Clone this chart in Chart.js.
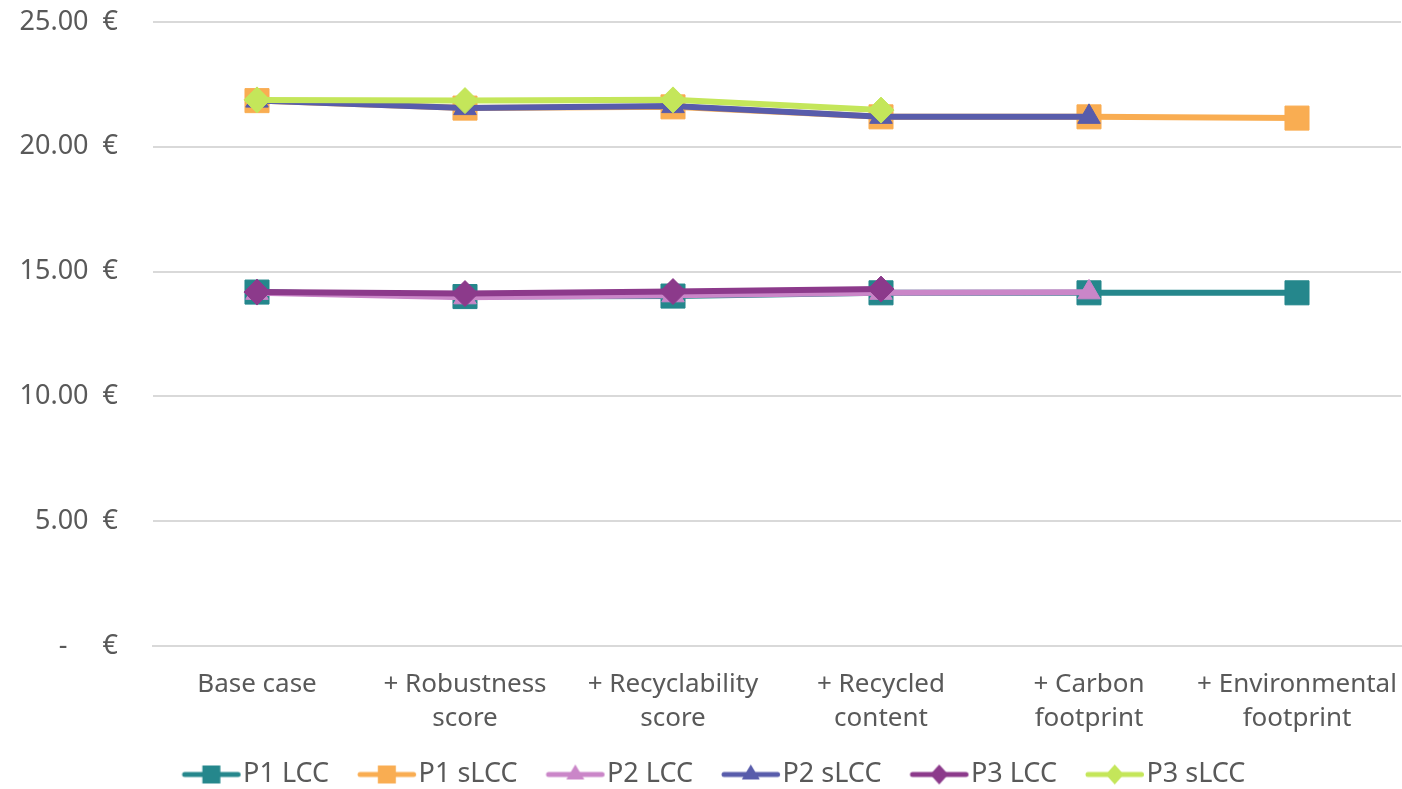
<!DOCTYPE html>
<html>
<head>
<meta charset="utf-8">
<script src="https://cdn.jsdelivr.net/npm/chart.js@4"></script>
<style>
  html, body { margin: 0; padding: 0; background: #ffffff; }
  #wrap { width: 1402px; height: 789px; }
</style>
</head>
<body>
<div id="wrap"><canvas id="c" width="1402" height="789"></canvas></div>
<script>
// Scenario steps on the x axis (two-line labels)
const categories = [
  'Base case',
  ['+ Robustness', 'score'],
  ['+ Recyclability', 'score'],
  ['+ Recycled', 'content'],
  ['+ Carbon', 'footprint'],
  ['+ Environmental', 'footprint']
];

// Cost per product (EUR)
const p1LCC  = [14.18, 14.00, 14.02, 14.15, 14.15, 14.15];
const p1sLCC = [21.85, 21.55, 21.60, 21.20, 21.20, 21.15];
const p2LCC  = [14.15, 13.97, 14.05, 14.15, 14.17, null];
const p2sLCC = [21.85, 21.55, 21.63, 21.20, 21.20, null];
const p3LCC  = [14.18, 14.12, 14.20, 14.30, null, null];
const p3sLCC = [21.88, 21.85, 21.88, 21.47, null, null];

const yTicks = [0, 5, 10, 15, 20, 25];

const FONT = 'Noto Sans';
const TEXT = '#595959';
const FS = 26;
const LEG_FS = 27;

const series = [
  { label: 'P1 LCC',  data: p1LCC,  color: '#25878c', style: 'rect',     r: 17 },
  { label: 'P1 sLCC', data: p1sLCC, color: '#f9ad52', style: 'rect',     r: 17 },
  { label: 'P2 LCC',  data: p2LCC,  color: '#ca86c8', style: 'triangle', r: 13 },
  { label: 'P2 sLCC', data: p2sLCC, color: '#585cab', style: 'triangle', r: 13 },
  { label: 'P3 LCC',  data: p3LCC,  color: '#8c3a8b', style: 'rectRot',  r: 13 },
  { label: 'P3 sLCC', data: p3sLCC, color: '#c4e65a', style: 'rectRot',  r: 13 }
];

// Legend swatch: a short line with the series marker in its middle,
// sitting at the right end of a wider transparent image
const SW_W = 92, SW_H = 26, SW_LINE = 62;
function swatch(color, style) {
  const cv = document.createElement('canvas');
  cv.width = SW_W; cv.height = SW_H;
  const g = cv.getContext('2d');
  const x0 = SW_W - SW_LINE;
  const x1 = SW_W - 5.5;
  g.strokeStyle = color; g.lineWidth = 5; g.lineCap = 'round';
  g.beginPath(); g.moveTo(x0 + 3, SW_H / 2); g.lineTo(x1, SW_H / 2); g.stroke();
  g.fillStyle = color;
  const cx = (x0 + 3 + x1) / 2, cy = SW_H / 2;
  g.beginPath();
  if (style === 'rect') {
    g.rect(cx - 9, cy - 9, 18, 18);
  } else if (style === 'triangle') {
    g.moveTo(cx, cy - 10); g.lineTo(cx + 9, cy + 5); g.lineTo(cx - 9, cy + 5); g.closePath();
  } else {
    g.moveTo(cx, cy - 10); g.lineTo(cx + 9, cy); g.lineTo(cx, cy + 10); g.lineTo(cx - 9, cy); g.closePath();
  }
  g.fill();
  return cv;
}

const datasets = series.map((s, i) => ({
  label: s.label,
  data: s.data,
  borderColor: s.color,
  backgroundColor: s.color,
  borderWidth: 6,
  pointStyle: s.style,
  pointRadius: s.r,
  pointHoverRadius: s.r,
  pointBorderWidth: 1,
  pointBorderColor: s.color,
  pointBackgroundColor: s.color,
  tension: 0,
  spanGaps: false,
  order: series.length - i,
  legendSwatch: swatch(s.color, s.style)
}));

// Nudge the legend row a few pixels right so the visible swatches are centred
const legendNudge = {
  id: 'legendNudge',
  afterLayout(chart) {
    if (chart.legend) { chart.legend.left += 5; chart.legend.right += 5; }
  }
};

new Chart(document.getElementById('c'), {
  type: 'line',
  data: { labels: categories, datasets },
  plugins: [legendNudge],
  options: {
    responsive: false,
    animation: false,
    layout: { autoPadding: false, padding: { left: 0, right: 1, top: 22, bottom: -9 } },
    plugins: {
      tooltip: { enabled: false },
      legend: {
        position: 'bottom',
        labels: {
          color: TEXT,
          font: { family: FONT, size: LEG_FS },
          usePointStyle: true,
          pointStyleWidth: 64,
          boxHeight: LEG_FS,
          padding: 12,
          sort: (a, b) => a.datasetIndex - b.datasetIndex,
          generateLabels: (chart) => chart.data.datasets.map((d, i) => ({
            text: d.label,
            fontColor: TEXT,
            pointStyle: d.legendSwatch,
            datasetIndex: i,
            hidden: false,
            lineWidth: 0
          }))
        }
      }
    },
    scales: {
      x: {
        offset: true,
        grid: { display: false, drawTicks: false },
        border: { display: true, color: '#d9d9d9', width: 2 },
        afterFit: (scale) => {
          scale.height = 103;
          scale.paddingLeft = 0; scale.paddingRight = 0;
          scale.paddingTop = 0; scale.paddingBottom = 0;
        },
        ticks: {
          color: TEXT,
          font: { family: FONT, size: FS, lineHeight: 1.32 },
          padding: 21,
          maxRotation: 0,
          autoSkip: false
        }
      },
      y: {
        min: 0,
        max: 25,
        afterBuildTicks: (scale) => { scale.ticks = yTicks.map(v => ({ value: v })); },
        afterFit: (scale) => {
          scale.width = 153;
          scale.paddingTop = 0; scale.paddingBottom = 0;
        },
        grid: { color: '#d9d9d9', lineWidth: 2, drawTicks: false },
        border: { display: false },
        ticks: {
          color: TEXT,
          font: { family: FONT, size: 27 },
          padding: 35,
          callback: (v) => v === 0 ? '-     €' : v.toFixed(2) + '  €'
        }
      }
    }
  }
});
</script>
</body>
</html>
